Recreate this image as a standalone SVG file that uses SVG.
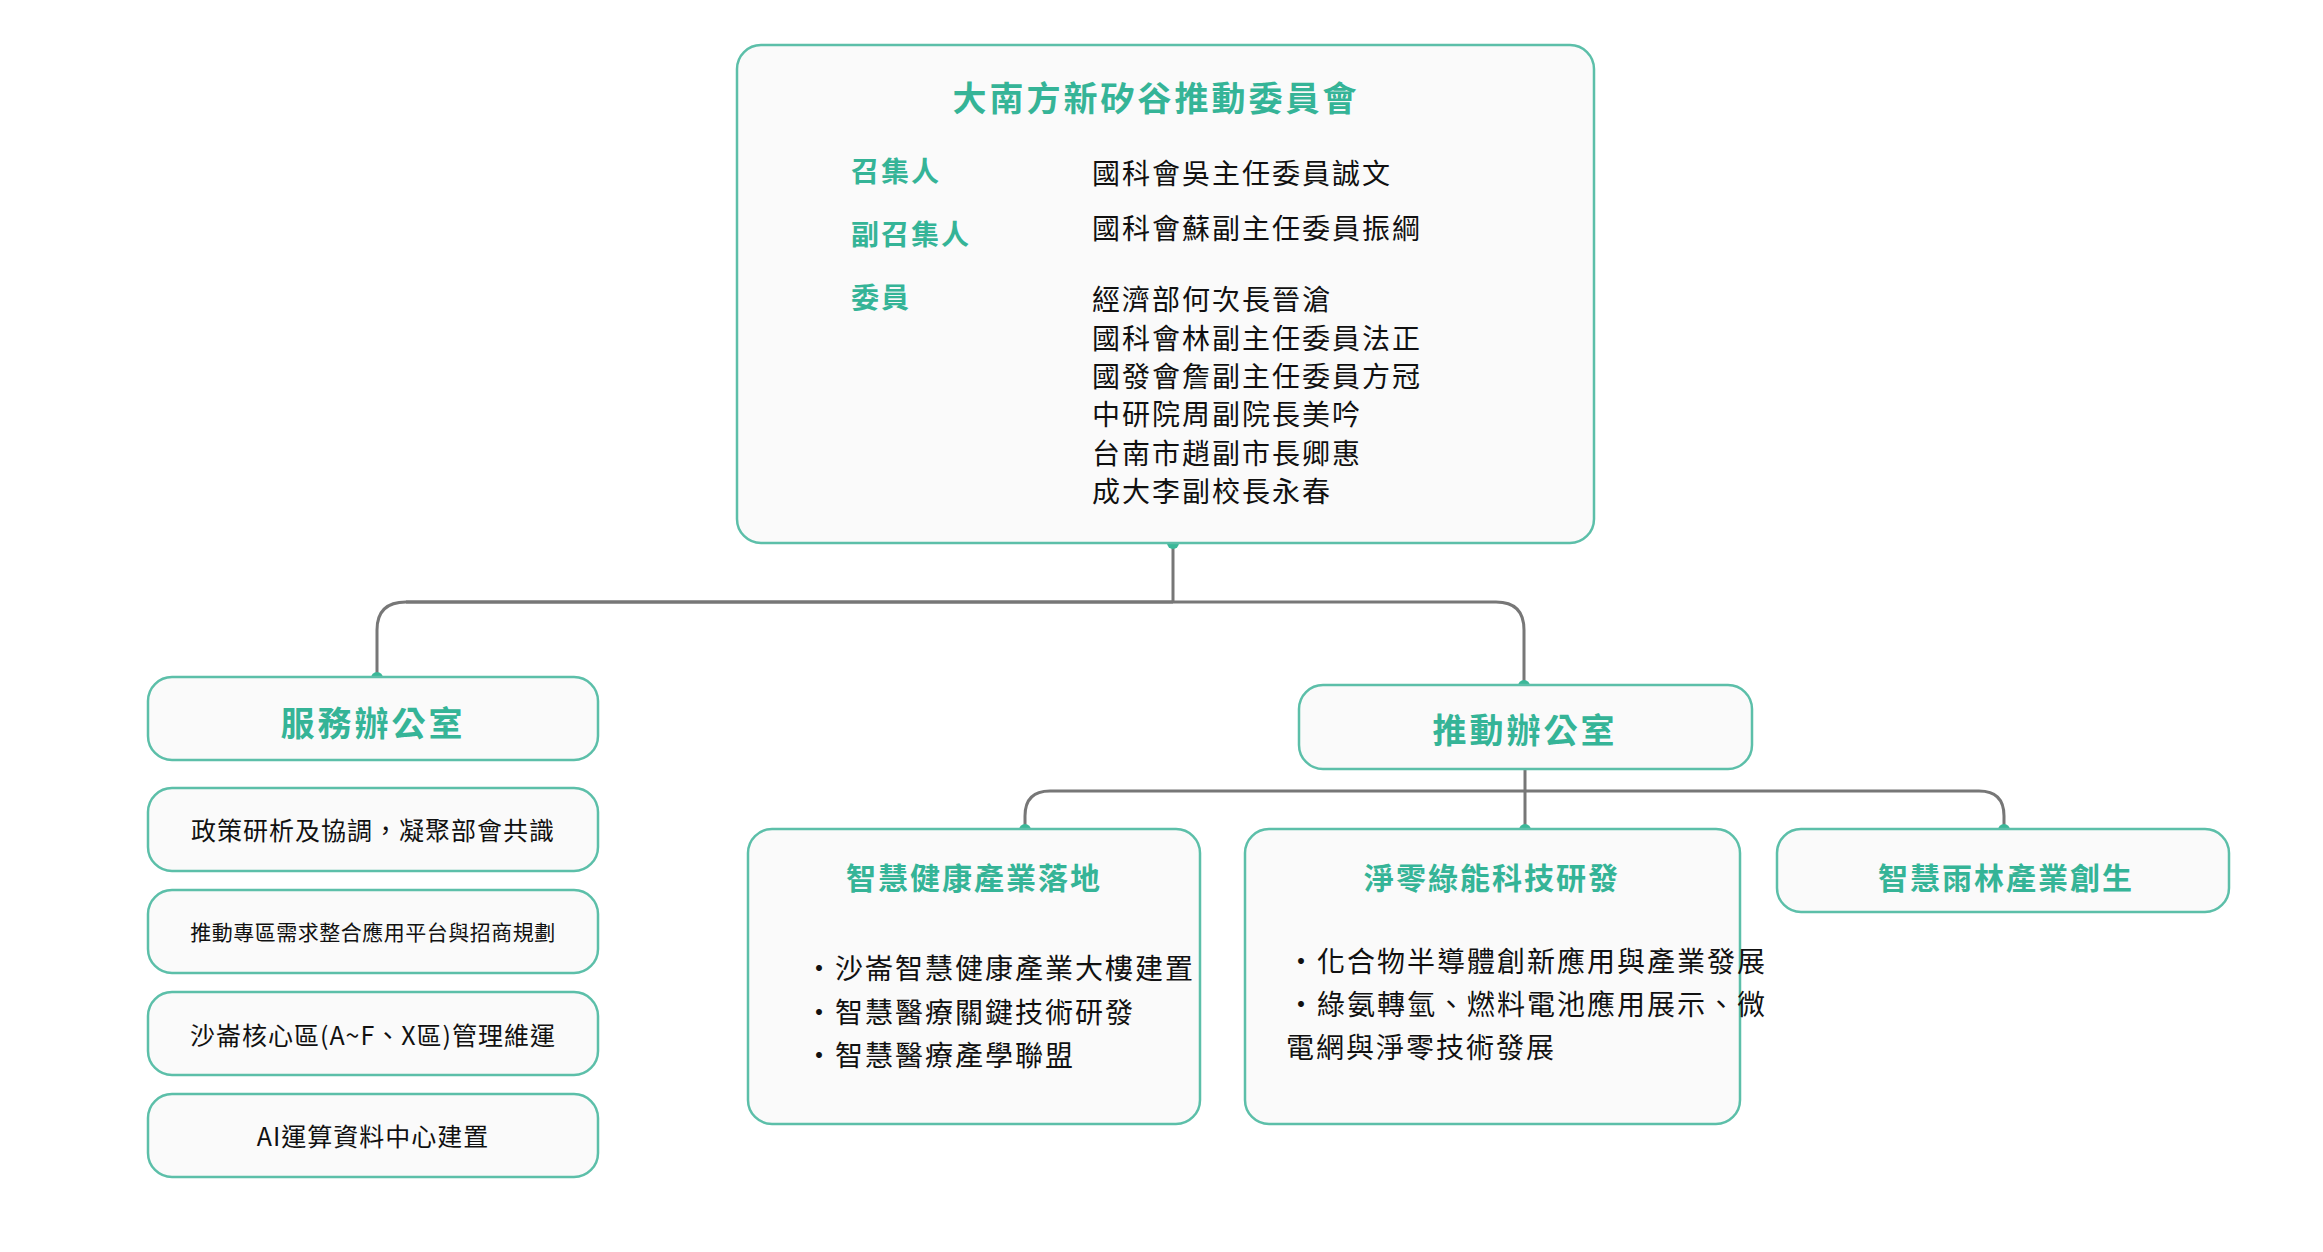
<svg xmlns="http://www.w3.org/2000/svg" width="2323" height="1252" viewBox="0 0 2323 1252">
<style>
.box{fill:#fafafa;stroke:#5cbfa9;stroke-width:2.5}
.t{font-family:"Noto Sans CJK TC","Noto Sans",sans-serif;font-weight:700;fill:#35b497;text-anchor:middle;dominant-baseline:central}
.lb{font-family:"Noto Sans CJK TC","Noto Sans",sans-serif;font-weight:700;fill:#35b497;font-size:28px;letter-spacing:2px;dominant-baseline:central}
.b{font-family:"Noto Sans CJK TC","Noto Sans",sans-serif;fill:#111;font-size:28px;letter-spacing:2px;dominant-baseline:central}
.c{font-family:"Noto Sans CJK TC","Noto Sans",sans-serif;fill:#111;text-anchor:middle;dominant-baseline:central}
.ln{fill:none;stroke:#777;stroke-width:3}
.dot{fill:#3bb899}
</style>
<rect width="2323" height="1252" fill="#fff"/>
<g id="connectors">
<path class="ln" d="M1173 543V602"/>
<path class="ln" d="M406 602H1496Q1524 602 1524 630V685"/>
<path class="ln" d="M1173 602H406Q377 602 377 630V677"/>
<path class="ln" d="M1525 769V829"/>
<path class="ln" d="M1025 829V816Q1025 791 1050 791H1979Q2004 791 2004 816V829"/>
<circle class="dot" cx="1173" cy="543" r="6"/>
<circle class="dot" cx="377" cy="678" r="6"/>
<circle class="dot" cx="1524" cy="686" r="6"/>
<circle class="dot" cx="1025" cy="830" r="6"/>
<circle class="dot" cx="1525" cy="830" r="6"/>
<circle class="dot" cx="2004" cy="830" r="6"/>
</g>
<g id="committee">
<rect class="box" x="737" y="45" width="857" height="498" rx="24"/>
<text class="t" x="1156" y="96" font-size="34" letter-spacing="3">大南方新矽谷推動委員會</text>
<text class="lb" x="851" y="170">召集人</text>
<text class="lb" x="851" y="233">副召集人</text>
<text class="lb" x="851" y="296">委員</text>
<text class="b" x="1092" y="172">國科會吳主任委員誠文</text>
<text class="b" x="1092" y="227">國科會蘇副主任委員振綱</text>
<text class="b" x="1092" y="298">經濟部何次長晉滄</text>
<text class="b" x="1092" y="337">國科會林副主任委員法正</text>
<text class="b" x="1092" y="375">國發會詹副主任委員方冠</text>
<text class="b" x="1092" y="413">中研院周副院長美吟</text>
<text class="b" x="1092" y="452">台南市趙副市長卿惠</text>
<text class="b" x="1092" y="490">成大李副校長永春</text>
</g>
<g id="service">
<rect class="box" x="148" y="677" width="450" height="83" rx="24"/>
<text class="t" x="373" y="721" font-size="34" letter-spacing="3">服務辦公室</text>
</g>
<g id="s1"><rect class="box" x="148" y="788" width="450" height="83" rx="24"/><text class="c" x="373" y="829" font-size="25" letter-spacing="1">政策研析及協調，凝聚部會共識</text></g>
<g id="s2"><rect class="box" x="148" y="890" width="450" height="83" rx="24"/><text class="c" x="373" y="931" font-size="21" letter-spacing="0.5">推動專區需求整合應用平台與招商規劃</text></g>
<g id="s3"><rect class="box" x="148" y="992" width="450" height="83" rx="24"/><text class="c" x="373" y="1034" font-size="25" letter-spacing="1">沙崙核心區(A~F、X區)管理維運</text></g>
<g id="s4"><rect class="box" x="148" y="1094" width="450" height="83" rx="24"/><text class="c" x="373" y="1135" font-size="25" letter-spacing="1">AI運算資料中心建置</text></g>
<g id="promo">
<rect class="box" x="1299" y="685" width="453" height="84" rx="24"/>
<text class="t" x="1525" y="728" font-size="34" letter-spacing="3">推動辦公室</text>
</g>
<g id="health">
<rect class="box" x="748" y="829" width="452" height="295" rx="24"/>
<text class="t" x="974" y="876" font-size="30" letter-spacing="2">智慧健康產業落地</text>
<text class="b" x="805" y="967" font-size="26">•沙崙智慧健康產業大樓建置</text>
<text class="b" x="805" y="1011" font-size="26">•智慧醫療關鍵技術研發</text>
<text class="b" x="805" y="1054" font-size="26">•智慧醫療產學聯盟</text>
</g>
<g id="netzero">
<rect class="box" x="1245" y="829" width="495" height="295" rx="24"/>
<text class="t" x="1492" y="876" font-size="30" letter-spacing="2">淨零綠能科技研發</text>
<text class="b" x="1287" y="960" font-size="26">•化合物半導體創新應用與產業發展</text>
<text class="b" x="1287" y="1003" font-size="26">•綠氨轉氫、燃料電池應用展示、微</text>
<text class="b" x="1286" y="1046" font-size="26">電網與淨零技術發展</text>
</g>
<g id="rainforest">
<rect class="box" x="1777" y="829" width="452" height="83" rx="24"/>
<text class="t" x="2006" y="876" font-size="30" letter-spacing="2">智慧雨林產業創生</text>
</g>
</svg>
